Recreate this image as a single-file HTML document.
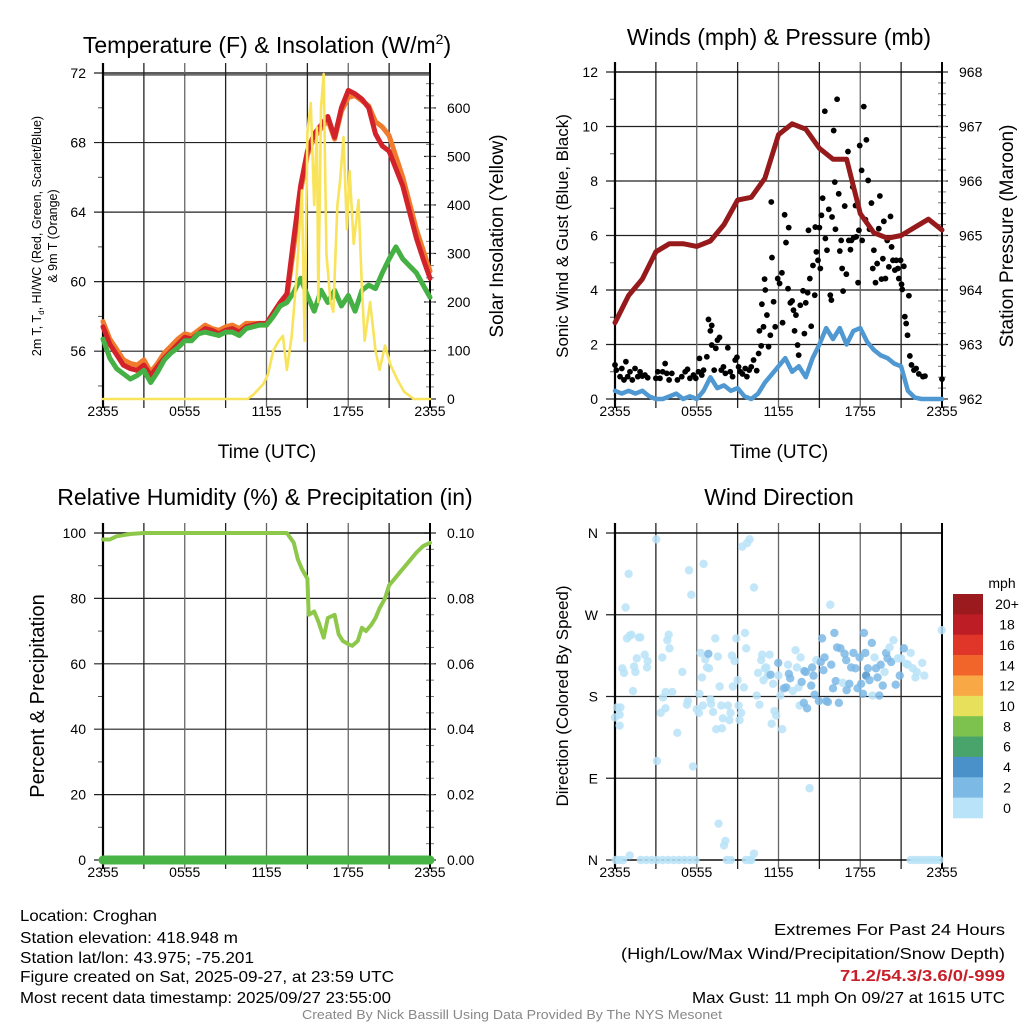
<!DOCTYPE html>
<html><head><meta charset="utf-8"><style>
html,body{margin:0;padding:0;background:#fff;}
svg{display:block;font-family:"Liberation Sans",sans-serif;}
</style></head><body>
<svg id="fig" width="1024" height="1024" viewBox="0 0 1024 1024" xmlns="http://www.w3.org/2000/svg">
<g id="p1"></g>
<g id="p2"></g>
<g id="p3"></g>
<g id="p4"></g>
<text x="267" y="53" font-size="23" text-anchor="middle">Temperature (F) &amp; Insolation (W/m<tspan font-size="14" dy="-9">2</tspan><tspan dy="9">)</tspan></text>
<text x="779" y="45" font-size="23" text-anchor="middle">Winds (mph) &amp; Pressure (mb)</text>
<text x="265" y="505" font-size="23" text-anchor="middle">Relative Humidity (%) &amp; Precipitation (in)</text>
<text x="779" y="505" font-size="23" text-anchor="middle">Wind Direction</text>
<text transform="translate(41,236) rotate(-90)" font-size="12.5" text-anchor="middle">2m T, T<tspan font-size="8" dy="3">d</tspan><tspan dy="-3">, HI/WC (Red, Green, Scarlet/Blue)</tspan></text>
<text transform="translate(57,236) rotate(-90)" font-size="12.5" text-anchor="middle">&amp; 9m T (Orange)</text>
<text transform="translate(503,236) rotate(-90)" font-size="19" text-anchor="middle">Solar Insolation (Yellow)</text>
<text transform="translate(568,236) rotate(-90)" font-size="17" text-anchor="middle">Sonic Wind &amp; Gust (Blue, Black)</text>
<text transform="translate(1013,236) rotate(-90)" font-size="19" text-anchor="middle">Station Pressure (Maroon)</text>
<text transform="translate(44,696) rotate(-90)" font-size="20" text-anchor="middle">Percent &amp; Precipitation</text>
<text transform="translate(568,696) rotate(-90)" font-size="17" text-anchor="middle">Direction (Colored By Speed)</text>
<text x="267" y="458" font-size="19" text-anchor="middle">Time (UTC)</text>
<text x="779" y="458" font-size="19" text-anchor="middle">Time (UTC)</text>
<g font-size="16">
<text x="20" y="921" textLength="137" lengthAdjust="spacingAndGlyphs">Location: Croghan</text>
<text x="20" y="943" textLength="218" lengthAdjust="spacingAndGlyphs">Station elevation: 418.948 m</text>
<text x="20" y="963" textLength="234" lengthAdjust="spacingAndGlyphs">Station lat/lon: 43.975; -75.201</text>
<text x="20" y="982" textLength="374" lengthAdjust="spacingAndGlyphs">Figure created on Sat, 2025-09-27, at 23:59 UTC</text>
<text x="20" y="1003" textLength="371" lengthAdjust="spacingAndGlyphs">Most recent data timestamp: 2025/09/27 23:55:00</text>
</g>
<g font-size="16">
<text x="774" y="935" textLength="231" lengthAdjust="spacingAndGlyphs">Extremes For Past 24 Hours</text>
<text x="621" y="959" textLength="384" lengthAdjust="spacingAndGlyphs">(High/Low/Max Wind/Precipitation/Snow Depth)</text>
<text x="840" y="981" fill="#c8202a" font-weight="bold" textLength="165" lengthAdjust="spacingAndGlyphs">71.2/54.3/3.6/0/-999</text>
<text x="692" y="1003" textLength="313" lengthAdjust="spacingAndGlyphs">Max Gust: 11 mph On 09/27 at 1615 UTC</text>
</g>
<text x="302" y="1019" font-size="13" fill="#888" textLength="420" lengthAdjust="spacingAndGlyphs">Created By Nick Bassill Using Data Provided By The NYS Mesonet</text>
</svg>
<script>
// ---------- data ----------
const timeLabels = ["2355","0555","1155","1755","2355"];
const halfT = [0,0.5,1,1.5,2,2.5,3,3.5,4,4.5,5,5.5,6,6.5,7,7.5,8,8.5,9,9.5,10,10.5,11,11.5,12,12.5,13,13.5,14,14.5,15,15.5,16,16.5,17,17.5,18,18.5,19,19.5,20,20.5,21,21.5,22,22.5,23,23.5,24];
const tempRed = [57.4,56.4,55.8,55.2,55.0,54.9,55.2,54.6,55.1,55.6,56.0,56.4,56.8,56.7,57.0,57.3,57.2,57.0,57.2,57.3,57.1,57.4,57.5,57.6,57.6,58.2,58.8,59.3,62.5,65.5,67.5,68.5,69.0,69.5,68.3,70.0,71.0,70.8,70.5,70.0,68.5,67.8,67.5,66.5,65.5,64.0,62.5,61.3,60.2];
const tempOrange = [57.7,56.7,56.1,55.5,55.3,55.2,55.5,54.8,55.3,55.9,56.3,56.7,57.0,56.9,57.2,57.5,57.3,57.2,57.4,57.5,57.3,57.6,57.6,57.6,57.5,58.0,58.6,59.1,62.0,65.2,67.3,68.3,68.8,69.3,68.2,69.8,70.6,70.7,70.4,70.1,69.2,68.9,68.4,67.2,66.0,64.5,63.0,61.8,60.6];
const dewGreen = [56.7,55.6,55.0,54.7,54.4,54.6,54.9,54.2,54.8,55.5,55.9,56.2,56.6,56.6,57.0,57.1,57.0,56.9,57.1,57.1,56.9,57.3,57.4,57.5,57.5,58.0,58.6,58.8,59.4,60.2,59.2,58.3,59.5,58.8,59.5,58.6,59.2,58.3,59.5,59.8,59.6,60.5,61.3,62.0,61.3,60.9,60.5,59.8,59.1];
const solarT = [0,10.6,11,11.75,12.1,12.5,12.9,13.2,13.5,13.85,14.2,14.6,14.8,15,15.25,15.5,15.7,15.8,16,16.2,16.4,16.7,16.9,17.2,17.4,17.65,17.9,18.1,18.4,18.75,19,19.2,19.6,20,20.3,20.7,21.1,21.6,22.1,22.8,24];
const solarV = [0,0,8,30,50,100,120,130,60,130,250,430,120,550,610,400,560,200,600,670,300,200,180,400,450,540,350,470,320,410,230,120,200,100,60,110,70,40,15,0,0];
const pressT = [0,1,2,3,4,5,6,7,8,9,10,11,12,13,14,15,16,17,18,19,20,21,22,23,24];
const pressV = [963.4,963.9,964.2,964.7,964.85,964.85,964.8,964.9,965.2,965.65,965.7,966.05,966.85,967.05,966.95,966.6,966.4,966.4,965.4,965.05,964.95,965.0,965.15,965.3,965.1];
const windBlue = [0.3,0.2,0.3,0.2,0.3,0.1,0,0,0.1,0.2,0,0.1,0,0.3,0.8,0.4,0.5,0.3,0.4,0.1,0,0.2,0.6,0.9,1.2,1.5,1.0,1.2,0.8,1.5,2.0,2.6,2.2,2.6,2.0,2.5,2.6,2.1,1.8,1.6,1.5,1.3,1.2,0.3,0.05,0,0,0,0];
const gustT = [0,0.1,0.37,0.5,0.66,0.8,0.93,1.1,1.27,1.47,1.67,1.84,2.0,2.2,2.4,3.0,3.14,3.3,3.5,3.68,3.8,3.97,4.17,4.58,4.9,5.15,5.32,5.5,5.76,5.93,6.13,6.2,6.37,6.5,6.74,6.86,7.0,7.1,7.1,7.28,7.4,7.52,7.67,7.8,7.96,8.1,8.28,8.46,8.63,8.82,8.95,9.07,9.2,9.36,9.56,9.68,9.85,10.0,10.17,10.4,10.54,10.6,10.73,10.78,10.9,10.98,11.03,11.15,11.27,11.4,11.47,11.52,11.64,11.76,11.94,12.08,12.25,12.3,12.45,12.55,12.7,12.75,12.87,13.0,13.1,13.18,13.28,13.4,13.48,13.6,13.8,13.9,14.0,14.14,14.2,14.3,14.4,14.53,14.66,14.7,14.78,14.9,15.0,15.07,15.15,15.24,15.4,15.44,15.56,15.69,15.8,15.88,15.93,16.05,16.13,16.18,16.3,16.42,16.5,16.6,16.67,16.74,16.86,16.98,17.1,17.16,17.28,17.35,17.45,17.52,17.65,17.7,17.84,17.9,17.96,18.1,18.14,18.26,18.38,18.45,18.58,18.68,18.82,18.92,19.0,19.12,19.24,19.36,19.44,19.56,19.66,19.73,19.85,19.98,20.1,20.22,20.3,20.4,20.54,20.64,20.76,20.83,20.96,21.03,21.08,21.2,21.27,21.37,21.47,21.57,21.64,21.76,21.94,22.1,22.3,22.6,22.75,24.0];
const gustV = [1.25,1.06,0.82,1.12,0.7,1.37,0.82,1.0,0.7,1.12,0.82,1.0,0.84,0.88,0.78,0.76,1.0,0.76,1.0,1.3,0.94,0.7,0.94,0.7,0.82,1.0,1.09,0.76,0.88,0.76,1.0,1.49,0.88,1.06,1.55,2.92,2.5,2.7,1.98,1.06,1.86,2.16,2.26,1.06,1.18,0.94,1.88,1.0,0.82,1.43,1.53,1.18,1.0,0.92,1.12,0.82,1.06,1.18,1.43,1.04,1.67,2.5,1.95,3.48,2.65,4.4,4.0,3.08,1.92,2.34,7.23,5.19,3.57,2.65,4.42,4.24,4.63,2.8,6.76,5.74,4.05,6.29,3.53,3.6,3.26,2.5,3.08,1.98,1.61,3.44,3.97,2.4,3.53,3.9,6.19,4.42,2.67,4.9,3.81,6.31,5.4,5.09,6.29,4.79,6.74,7.37,10.56,5.89,5.46,6.96,3.81,3.63,6.68,9.85,7.96,6.23,11.0,7.53,5.43,5.82,4.79,3.96,7.08,4.58,9.08,5.82,5.48,5.82,7.78,5.92,7.1,5.95,4.27,6.19,9.3,8.39,5.82,10.73,6.58,9.51,8.02,6.23,7.19,4.79,5.46,4.27,4.97,6.25,7.45,4.4,5.15,6.52,4.42,5.82,4.85,6.7,5.58,5.09,4.73,5.09,4.79,4.42,5.09,4.21,4.02,4.87,3.02,2.77,2.34,3.79,1.58,1.25,1.06,1.12,0.92,0.82,0.84,0.73];
const rhT = [0,0.5,1,2,3,4,6,8,10,12,13,13.5,14,14.3,14.6,15,15.1,15.5,15.8,16.2,16.5,17,17.3,17.6,18,18.3,18.7,19,19.3,19.7,20,20.3,20.7,21,21.4,21.8,22.2,22.6,23,23.5,24];
const rhV = [98,98,99,99.7,100,100,100,100,100,100,100,100,97,92,89,86,75,76,73,68,74,75,69,67,66,65.5,67,71,70,72,74,77,80,84,86,88,90,92,94,96,97];
const precipT = [0,24];
const precipV = [0,0];
const dirT = [0,0.15,0.34,0.4,0.34,0.78,1.0,0.54,0.66,0.88,1.08,1.2,1.32,1.4,1.5,1.6,1.76,1.86,2.18,2.35,2.4,3.03,3.08,3.35,3.47,3.52,3.72,3.7,3.84,3.94,4.0,4.2,4.57,4.94,5.28,5.35,5.43,5.6,5.72,6.0,6.16,6.2,6.28,6.38,6.45,6.5,6.63,6.75,6.85,6.9,7.0,7.06,7.2,7.36,7.43,7.55,7.6,7.68,7.8,7.85,7.92,8.0,8.1,8.29,8.4,8.48,8.58,8.65,8.78,8.9,9.0,9.07,9.14,9.26,9.34,9.46,9.54,9.63,9.7,9.88,10.2,10.4,10.5,10.6,10.73,10.8,10.9,11.0,11.1,11.2,11.35,11.42,11.5,11.6,11.7,11.83,11.98,12.0,12.13,12.27,12.4,12.57,12.7,12.76,12.86,13.05,13.25,13.35,13.47,13.55,13.62,13.7,13.86,13.9,14.0,14.1,14.28,14.4,14.47,14.57,14.65,14.77,14.96,15.1,15.2,15.3,15.38,15.5,15.62,15.8,15.87,16.0,16.1,16.2,16.3,16.43,16.55,16.72,16.85,16.97,17.0,17.2,17.33,17.5,17.65,17.8,17.95,18.06,18.2,18.27,18.37,18.43,18.56,18.68,18.85,18.9,19.05,19.15,19.27,19.4,19.5,19.65,19.78,19.9,20.0,20.15,20.27,20.44,20.6,20.76,20.9,21.0,21.2,21.37,21.5,21.7,21.86,22.05,22.15,22.55,22.7,23.98,
 0.05,0.3,0.6,1.08,1.9,2.3,2.7,3.1,3.5,3.9,4.3,4.7,5.1,5.5,5.9,8.2,8.5,9.6,9.9,10.0,10.2,21.7,22.0,22.3,22.6,22.9,23.2,23.5,23.8];
const dirV = [157,168,160,168,148,278,315,211,206,244,247,248,186,213,207,222,245,245,226,212,219,353,109,162,223,179,185,167,242,248,233,185,140,207,171,175,319,292,103,166,162,183,228,201,170,326,221,212,227,211,177,172,163,244,144,224,40,191,170,145,156,16,21,170,154,162,225,191,219,244,198,170,154,162,345,190,250,233,349,353,300,181,206,171,220,226,198,211,212,203,226,204,150,194,164,159,217,203,181,144,189,190,215,205,200,186,231,212,190,170,223,196,173,208,207,167,79,192,212,203,182,220,175,218,244,209,223,175,174,281,215,189,250,197,234,173,233,195,227,220,187,194,212,228,211,189,223,194,183,250,228,203,211,198,239,181,223,211,201,181,215,192,207,228,222,234,218,242,193,222,203,222,233,216,215,228,211,201,207,217,203,253,
 0,0,0,5,0,0,0,0,0,0,0,0,0,0,0,0,0,0,0,0,7,0,0,0,0,0,0,0,0];
const dirS = [1,1,1,1,1,1,1,1,1,1,1,1,1,1,1,1,1,1,1,1,1,1,1,1,1,1,1,1,1,1,1,1,1,1,1,1,1,1,1,1,1,1,1,1,1,1,1,1,3,1,1,1,1,1,1,1,1,1,1,1,1,1,1,1,1,1,1,1,1,1,1,1,1,1,1,1,1,1,1,1,1,1,1,1,1,1,1,1,1,1,1,3,1,1,1,1,3,1,1,1,3,3,1,3,3,1,1,1,1,1,1,3,3,3,3,3,1,3,3,3,3,1,3,3,3,3,3,3,3,1,3,3,3,3,3,3,3,1,3,3,3,3,3,3,3,3,3,3,3,3,3,5,3,3,3,1,1,3,3,3,3,3,1,3,3,1,3,1,3,1,3,1,3,1,1,1,1,1,1,1,1,1,1,
 1,1,1,1,1,1,1,1,1,1,1,1,1,1,1,1,1,1,1,1,1,1,1,1,1,1,1,1,1];
const cbLabels = ["20+","18","16","14","12","10","8","6","4","2","0"];
const cbColors = ["#9b1a1e","#bd1e26","#df3629","#f2652a","#f8a845","#e6e05a","#7dc24e","#48a46a","#4a90c9","#7db9e5","#b8e3f8"];

// ---------- helpers ----------
const NS="http://www.w3.org/2000/svg";
function mk(parent,tag,attrs){const e=document.createElementNS(NS,tag);for(const k in attrs)e.setAttribute(k,attrs[k]);parent.appendChild(e);return e;}
function txt(parent,x,y,s,size,anchor){const e=mk(parent,"text",{x:x,y:y,"font-size":size,"text-anchor":anchor});e.textContent=s;return e;}
const X0=103,X1=430;
function makeX(off){return t=>off+X0+t*(X1-X0)/24;}
function makeY(top,bot,lo,hi){return v=>bot-(v-lo)*(bot-top)/(hi-lo);}

function frame(g,off,top,bot,leftTicks,leftLabels,yL,minorL,rightTicks,rightLabels,yR,minorR,xlabels){
  const xs=makeX(off);const l=off+X0,r=off+X1;
  leftTicks.forEach((v,i)=>{const y=yL(v);
    const gl=mk(g,"line",{x1:l-9,x2:r,y1:y,y2:y,stroke:"#222","stroke-width":1.2});
    
    
    const tl=txt(g,l-17,y+5,leftLabels[i],14,"end");
    
    });
  minorL.forEach(v=>{const y=yL(v);mk(g,"line",{x1:l-5,x2:l,y1:y,y2:y,stroke:"#555","stroke-width":1});});
  rightTicks.forEach((v,i)=>{const y=yR(v);
    mk(g,"line",{x1:r-6,x2:r+6,y1:y,y2:y,stroke:"#222","stroke-width":1.2});
    const tl=txt(g,r+17,y+5,rightLabels[i],14,"start");
    
    });
  minorR.forEach(v=>{const y=yR(v);mk(g,"line",{x1:r-4,x2:r+4,y1:y,y2:y,stroke:"#777","stroke-width":1});});
  for(let t=3;t<24;t+=3){const x=xs(t);
    const vl=mk(g,"line",{x1:x,x2:x,y1:top-10,y2:bot+9,stroke:(t%6==0)?"#666":"#222","stroke-width":1.3});
    
    }
  mk(g,"line",{x1:l,x2:l,y1:top-10,y2:bot+9,stroke:"#000","stroke-width":2.2});
  mk(g,"line",{x1:r,x2:r,y1:top-10,y2:bot+9,stroke:"#000","stroke-width":2});
  mk(g,"line",{x1:l,x2:r,y1:bot,y2:bot,stroke:"#000","stroke-width":1.3});
  if(xlabels){xlabels.forEach((s,i)=>{const tl=txt(g,xs(i*6),bot+17,s,14,"middle");
    
    });}
}
function poly(g,xs,ys,T,V,color,w,name){
  const pts=T.map((t,i)=>xs(t).toFixed(1)+","+ys(V[i]).toFixed(1)).join(" ");
  const p=mk(g,"polyline",{points:pts,fill:"none",stroke:color,"stroke-width":w,"stroke-linejoin":"round","stroke-linecap":"round"});
  
  
  return p;
}
function range(a,b,s){const o=[];for(let v=a;v<=b+1e-9;v+=s)o.push(+v.toFixed(4));return o;}

// ---------- panel 1 ----------
(function(){
  const g=document.getElementById("p1");const top=73,bot=399;
  const xs=makeX(0),yT=makeY(top,bot,53.25,72),yS=v=>bot-v*(bot-top)/672;
  mk(g,"rect",{x:X0,y:top-1,width:X1-X0,height:3,fill:"#bbb"});
  frame(g,0,top,bot,[56,60,64,68,72],["56","60","64","68","72"],yT,[54,58,62,66,70],
    [0,100,200,300,400,500,600],["0","100","200","300","400","500","600"],yS,range(25,650,25),timeLabels);
  mk(g,"line",{x1:X0,x2:X1,y1:top+2,y2:top+2,stroke:"#222","stroke-width":1});
  poly(g,xs,yT,halfT,tempOrange,"#f07b2c",5,"temp-9m-orange-line");
  poly(g,xs,yT,halfT,tempRed,"#d3232a",5,"temp-2m-red-line");
  poly(g,xs,yT,halfT,dewGreen,"#45b044",5,"dewpoint-green-line");
  poly(g,xs,yS,solarT,solarV,"#f8e35a",2.6,"solar-yellow-line");
})();

// ---------- panel 2 ----------
(function(){
  const g=document.getElementById("p2");const off=512,top=72,bot=399;
  const xs=makeX(off),yW=makeY(top,bot,0,12),yP=makeY(top,bot,962,968);
  frame(g,off,top,bot,[0,2,4,6,8,10,12],["0","2","4","6","8","10","12"],yW,[1,3,5,7,9,11],
    [962,963,964,965,966,967,968],["962","963","964","965","966","967","968"],yP,range(962.2,967.8,0.2),timeLabels);
  mk(g,"line",{x1:off+X0,x2:off+X1,y1:top,y2:top,stroke:"#000","stroke-width":1.3});
  poly(g,xs,yW,halfT,windBlue,"#4f98d2",4.5,"sonic-wind-blue-line");
  gustT.forEach((t,i)=>{const c=mk(g,"circle",{cx:xs(t),cy:yW(gustV[i]),r:2.9,fill:"#000"});
    
    });
  poly(g,xs,yP,pressT,pressV,"#961a1b",5,"pressure-maroon-line");
})();

// ---------- panel 3 ----------
(function(){
  const g=document.getElementById("p3");const top=533,bot=860;
  const xs=makeX(0),yR=makeY(top,bot,0,100),yPr=makeY(top,bot,0,0.1);
  frame(g,0,top,bot,[0,20,40,60,80,100],["0","20","40","60","80","100"],yR,[10,30,50,70,90],
    [0,0.02,0.04,0.06,0.08,0.1],["0.00","0.02","0.04","0.06","0.08","0.10"],yPr,range(0.005,0.095,0.005),timeLabels);
  mk(g,"line",{x1:X0,x2:X1,y1:top,y2:top,stroke:"#000","stroke-width":1.3});
  poly(g,xs,yR,rhT,rhV,"#8dc84a",4,"rh-green-line");
  poly(g,xs,yPr,precipT,precipV,"#48b445",9,"precip-green-line");
})();

// ---------- panel 4 ----------
(function(){
  const g=document.getElementById("p4");const off=512,top=533,bot=860;
  const xs=makeX(off),yD=makeY(top,bot,0,360);
  frame(g,off,top,bot,[0,90,180,270,360],["N","E","S","W","N"],yD,[],[],[],yD,[],timeLabels);
  mk(g,"line",{x1:off+X0,x2:off+X1,y1:top,y2:top,stroke:"#000","stroke-width":1.3});
  const col=s=>cbColors[10-Math.min(10,Math.floor(s/2))];
  dirT.forEach((t,i)=>{const c=mk(g,"circle",{cx:xs(t),cy:yD(dirV[i]),r:4.2,fill:col(dirS[i]),"fill-opacity":0.85});
    
    });
  const cbTop=594,cbH=224/11;
  const mph=txt(g,1002,588,"mph",14,"middle");
  
  
  cbColors.forEach((c,i)=>{const r=mk(g,"rect",{x:953,y:cbTop+i*cbH,width:30,height:cbH+0.3,fill:c});
    
    
    const tl=txt(g,1007,cbTop+i*cbH+cbH/2+5,cbLabels[i],14,"middle");
    
    });
})();
</script>
</body></html>
